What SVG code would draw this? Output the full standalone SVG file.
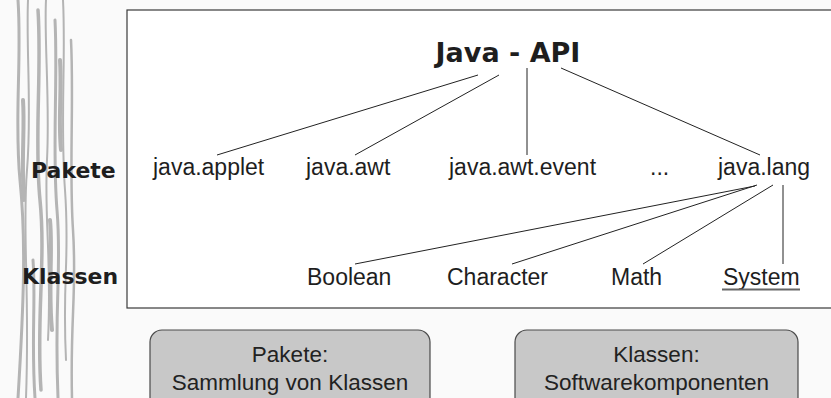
<svg xmlns="http://www.w3.org/2000/svg" width="831" height="398" viewBox="0 0 831 398">
<style>
.bg{fill:#fafafa}
.frame{fill:#ffffff;stroke:#3a3a3a;stroke-width:1.2}
.conn line{stroke:#222;stroke-width:1}
.title{font-family:"DejaVu Sans",sans-serif;font-weight:bold;font-size:27px;fill:#1e1e1e}
.side{font-family:"DejaVu Sans",sans-serif;font-weight:bold;font-size:22px;fill:#1e1e1e}
.lbl{font-family:"Liberation Sans",Arial,sans-serif;font-size:23px;fill:#1e1e1e}
.note rect{fill:#c8c8c8;stroke:#4a4a4a;stroke-width:1.2}
.note text{font-family:"Liberation Sans",Arial,sans-serif;font-size:22.5px;fill:#222;text-anchor:middle}
.bark path{fill:none;stroke:#b4b4b4;stroke-linecap:round}
</style>
<rect class="bg" x="0" y="0" width="831" height="398"/>
<g class="bark">
<path d="M18 0 C22 60 14 120 20 180 S24 300 18 398" stroke-width="3"/>
<path d="M28 0 C26 50 32 110 27 170 S30 290 26 398" stroke-width="2"/>
<path d="M38 10 C42 70 34 140 40 200 S36 320 41 390" stroke-width="3.5"/>
<path d="M46 0 C44 40 50 100 47 160 S52 260 48 340" stroke-width="2"/>
<path d="M55 20 C58 80 52 150 57 210 S54 300 58 398" stroke-width="3"/>
<path d="M63 0 C66 60 60 120 65 190 S62 280 66 360" stroke-width="2"/>
<path d="M71 40 C74 100 69 170 73 230 S70 320 72 398" stroke-width="2.5"/>
<path d="M23 100 C25 130 21 160 24 200" stroke-width="4"/>
<path d="M50 220 C53 250 48 290 52 330" stroke-width="4"/>
<path d="M33 260 C36 300 31 340 35 398" stroke-width="3"/>
<path d="M60 60 C62 90 58 120 61 150" stroke-width="4"/>
</g>
<rect class="frame" x="127" y="10" width="720" height="298"/>
<g class="side">
<text x="31" y="178">Pakete</text>
<text x="22" y="284">Klassen</text>
</g>
<g id="connectors" class="conn">
<line x1="478" y1="75" x2="217" y2="155"/>
<line x1="499" y1="75" x2="355" y2="155"/>
<line x1="527" y1="68" x2="527" y2="155"/>
<line x1="561" y1="68" x2="760" y2="155"/>
<line x1="755" y1="186" x2="355" y2="264"/>
<line x1="757" y1="185" x2="512" y2="264"/>
<line x1="773" y1="185" x2="643" y2="264"/>
<line x1="783" y1="185" x2="783" y2="264"/>
</g>
<g id="java-api"><text class="title" x="508" y="62" text-anchor="middle">Java - API</text></g>
<g id="java-applet"><text class="lbl" x="153" y="175">java.applet</text></g>
<g id="java-awt"><text class="lbl" x="306" y="175">java.awt</text></g>
<g id="java-awt-event"><text class="lbl" x="449" y="175">java.awt.event</text></g>
<g id="more"><text class="lbl" x="650" y="175">...</text></g>
<g id="java-lang"><text class="lbl" x="718" y="175">java.lang</text></g>
<g id="boolean"><text class="lbl" x="307" y="285">Boolean</text></g>
<g id="character"><text class="lbl" x="447" y="285">Character</text></g>
<g id="math"><text class="lbl" x="611" y="285">Math</text></g>
<g id="system"><text class="lbl" x="723" y="285">System</text><line x1="722" y1="289.5" x2="800" y2="289.5" stroke="#666" stroke-width="2"/></g>
<g id="note-pakete" class="note">
<rect x="150" y="330" width="280" height="90" rx="12" ry="12"/>
<text x="290" y="362">Pakete:</text>
<text x="290" y="390">Sammlung von Klassen</text>
</g>
<g id="note-klassen" class="note">
<rect x="515" y="330" width="283" height="90" rx="12" ry="12"/>
<text x="656.5" y="362">Klassen:</text>
<text x="656.5" y="390">Softwarekomponenten</text>
</g>
</svg>
